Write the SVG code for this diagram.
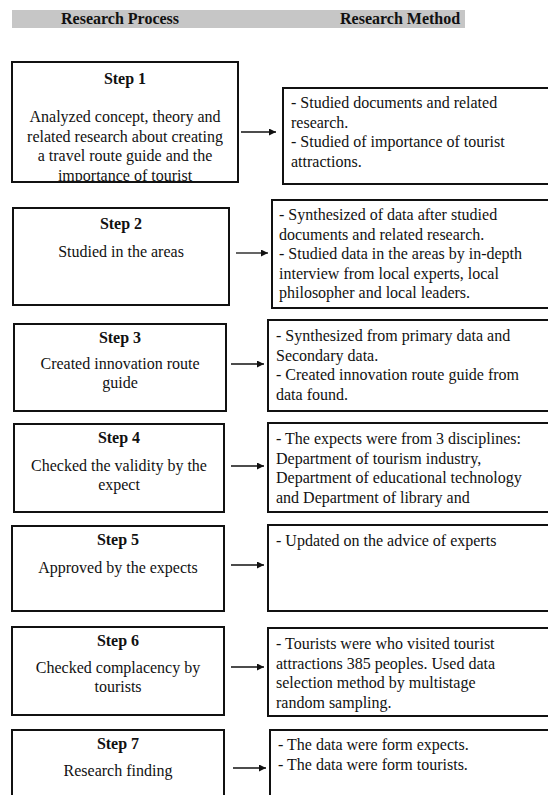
<svg xmlns="http://www.w3.org/2000/svg" width="548" height="795" viewBox="0 0 548 795">
<style>
.box{fill:#fff;stroke:#111;stroke-width:2}
.t{font-family:"Liberation Serif","Times New Roman",serif;font-size:16px;fill:#111}
.b{font-weight:bold}
.c{text-anchor:middle}
.arr{stroke:#111;stroke-width:1.3;fill:none;marker-end:url(#ah)}
</style>
<defs>
<marker id="ah" viewBox="0 0 10 10" refX="10" refY="5" markerWidth="8" markerHeight="7" markerUnits="userSpaceOnUse" orient="auto">
<path d="M0,0 L10,5 L0,10 z" fill="#111"/>
</marker>
<clipPath id="c1"><rect x="12" y="62" width="226" height="119"/></clipPath>
</defs>
<rect width="548" height="795" fill="#fff"/>
<g id="header">
<rect x="12" y="10" width="453" height="18" fill="#c6c6c6"/>
<text class="t b" x="61" y="24">Research Process</text>
<text class="t b" x="340" y="24">Research Method</text>
</g>
<g id="connectors">
<line class="arr" x1="241" y1="132" x2="276" y2="132"/>
<line class="arr" x1="236" y1="253" x2="268" y2="253"/>
<line class="arr" x1="231" y1="364" x2="264" y2="364"/>
<line class="arr" x1="231" y1="466" x2="264" y2="466"/>
<line class="arr" x1="231" y1="565" x2="264" y2="565"/>
<line class="arr" x1="231" y1="667" x2="264" y2="667"/>
<line class="arr" x1="233" y1="768" x2="266" y2="768"/>
</g>
<g id="step1">
<rect class="box" x="12" y="62" width="226" height="120"/>
<g clip-path="url(#c1)">
<text class="t b c" x="125" y="84">Step 1</text>
<text class="t c" x="125" y="122">Analyzed concept, theory and</text>
<text class="t c" x="125" y="141.5">related research about creating</text>
<text class="t c" x="125" y="161">a travel route guide and the</text>
<text class="t c" x="125" y="181">importance of tourist</text>
</g>
</g>
<g id="method1">
<rect class="box" x="283" y="88" width="276" height="96"/>
<text class="t" x="291" y="108">- Studied documents and related</text>
<text class="t" x="291" y="127.5">research.</text>
<text class="t" x="291" y="147">- Studied of importance of tourist</text>
<text class="t" x="291" y="166.5">attractions.</text>
</g>
<g id="step2">
<rect class="box" x="13" y="208" width="216" height="97"/>
<text class="t b c" x="121" y="229">Step 2</text>
<text class="t c" x="121" y="257">Studied in the areas</text>
</g>
<g id="method2">
<rect class="box" x="272" y="200" width="287" height="108"/>
<text class="t" x="279" y="220">- Synthesized of data after studied</text>
<text class="t" x="279" y="239.5">documents and related research.</text>
<text class="t" x="279" y="259">- Studied data in the areas by in-depth</text>
<text class="t" x="279" y="278.5">interview from local experts, local</text>
<text class="t" x="279" y="298">philosopher and local leaders.</text>
</g>
<g id="step3">
<rect class="box" x="14" y="324" width="212" height="87"/>
<text class="t b c" x="120" y="343">Step 3</text>
<text class="t c" x="120" y="369">Created innovation route</text>
<text class="t c" x="120" y="388">guide</text>
</g>
<g id="method3">
<rect class="box" x="268" y="320" width="291" height="91"/>
<text class="t" x="276" y="341">- Synthesized from primary data and</text>
<text class="t" x="276" y="360.5">Secondary data.</text>
<text class="t" x="276" y="380">- Created innovation route guide from</text>
<text class="t" x="276" y="399.5">data found.</text>
</g>
<g id="step4">
<rect class="box" x="14" y="424" width="210" height="88"/>
<text class="t b c" x="119" y="443">Step 4</text>
<text class="t c" x="119" y="471">Checked the validity by the</text>
<text class="t c" x="119" y="490">expect</text>
</g>
<g id="method4">
<rect class="box" x="268" y="423" width="291" height="89"/>
<text class="t" x="276" y="444">- The expects were from 3 disciplines:</text>
<text class="t" x="276" y="463.5">Department of tourism industry,</text>
<text class="t" x="276" y="483">Department of educational technology</text>
<text class="t" x="276" y="502.5">and Department of library and</text>
</g>
<g id="step5">
<rect class="box" x="12" y="526" width="212" height="85"/>
<text class="t b c" x="118" y="545">Step 5</text>
<text class="t c" x="118" y="573">Approved by the expects</text>
</g>
<g id="method5">
<rect class="box" x="268" y="525" width="291" height="86"/>
<text class="t" x="276" y="546">- Updated on the advice of experts</text>
</g>
<g id="step6">
<rect class="box" x="12" y="627" width="212" height="88"/>
<text class="t b c" x="118" y="646">Step 6</text>
<text class="t c" x="118" y="673">Checked complacency by</text>
<text class="t c" x="118" y="692">tourists</text>
</g>
<g id="method6">
<rect class="box" x="268" y="628" width="291" height="88"/>
<text class="t" x="276" y="649">- Tourists were who visited tourist</text>
<text class="t" x="276" y="668.5">attractions 385 peoples. Used data</text>
<text class="t" x="276" y="688">selection method by multistage</text>
<text class="t" x="276" y="707.5">random sampling.</text>
</g>
<g id="step7">
<rect class="box" x="12" y="730" width="212" height="80"/>
<text class="t b c" x="118" y="749">Step 7</text>
<text class="t c" x="118" y="776">Research finding</text>
</g>
<g id="method7">
<rect class="box" x="270" y="730" width="289" height="80"/>
<text class="t" x="278" y="750">- The data were form expects.</text>
<text class="t" x="278" y="769.5">- The data were form tourists.</text>
</g>
</svg>
